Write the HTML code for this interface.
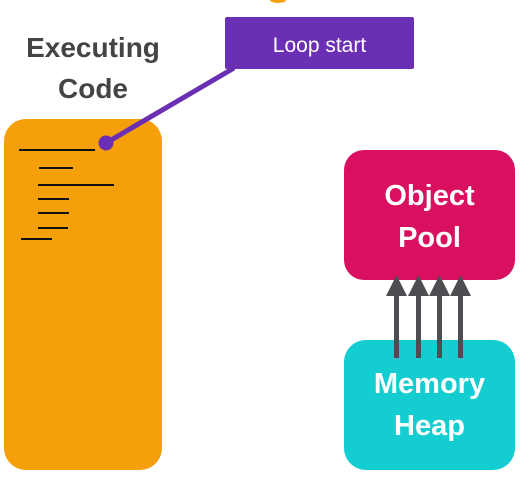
<!DOCTYPE html>
<html><head><style>
body{margin:0;width:521px;height:490px;background:#fff;overflow:hidden;position:relative;font-family:"Liberation Sans",sans-serif}
.t{position:absolute;font-weight:bold;text-align:center}
</style></head><body>
<svg width="521" height="490" style="position:absolute;left:0;top:0">
<ellipse cx="278" cy="0" rx="8" ry="3" fill="#f5a00a"/>
<rect x="4" y="119" width="158" height="351" rx="22" fill="#f5a00a"/>
<g stroke="#111" stroke-width="2">
<line x1="19" y1="150" x2="95" y2="150"/>
<line x1="39" y1="168" x2="73" y2="168"/>
<line x1="38" y1="185" x2="114" y2="185"/>
<line x1="38" y1="199" x2="69" y2="199"/>
<line x1="38" y1="213" x2="69" y2="213"/>
<line x1="38" y1="228" x2="68" y2="228"/>
<line x1="21" y1="239" x2="52" y2="239"/>
</g>
<line x1="234" y1="68" x2="106" y2="143" stroke="#6a2fb3" stroke-width="5"/>
<circle cx="106" cy="143" r="7.5" fill="#6a2fb3"/>
<rect x="225" y="17" width="189" height="52" rx="2" fill="#6a2fb3"/>
<rect x="344" y="150" width="171" height="130" rx="20" fill="#d90f60"/>
<rect x="344" y="340" width="171" height="130" rx="22" fill="#14cdd0"/>
<g fill="#4e4e52">
<rect x="394" y="293" width="5" height="65"/><polygon points="386,296 407,296 396.5,275"/>
<rect x="416" y="293" width="5" height="65"/><polygon points="408,296 429,296 418.5,275"/>
<rect x="437" y="293" width="5" height="65"/><polygon points="429,296 450,296 439.5,275"/>
<rect x="458" y="293" width="5" height="65"/><polygon points="450,296 471,296 460.5,275"/>
</g>
</svg>
<div class="t" style="left:225px;top:33px;width:189px;font-size:21px;font-weight:normal;color:#fff;line-height:26px">Loop start</div>
<div class="t" style="left:13px;top:27px;width:160px;font-size:28px;color:#444;line-height:41px">Executing<br>Code</div>
<div class="t" style="left:344px;top:175px;width:171px;font-size:29px;color:#fff;line-height:42px">Object<br>Pool</div>
<div class="t" style="left:344px;top:363px;width:171px;font-size:29px;color:#fff;line-height:42px">Memory<br>Heap</div>
</body></html>
